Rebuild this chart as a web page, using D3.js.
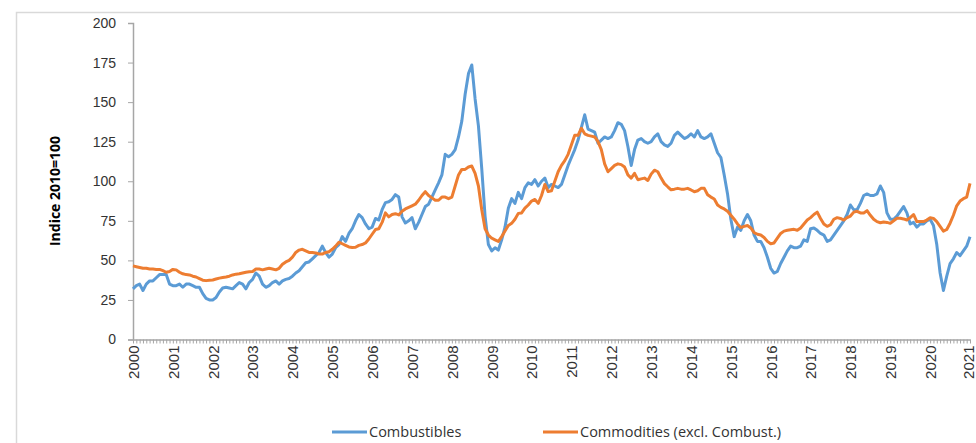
<!DOCTYPE html>
<html>
<head>
<meta charset="utf-8">
<script src="https://cdn.jsdelivr.net/npm/d3@7"></script>
<style>
  body { margin: 0; background: #fff; }
  svg { display: block; font-family: "Open Sans", "Liberation Sans", sans-serif; }
</style>
</head>
<body>
<svg id="chart" width="976" height="443"></svg>
<script>
// Tick labels on the x axis (one per January)
var years = ["2000", "2001", "2002", "2003", "2004", "2005", "2006", "2007", "2008", "2009", "2010",
             "2011", "2012", "2013", "2014", "2015", "2016", "2017", "2018", "2019", "2020", "2021"];

var yTicks = [0, 25, 50, 75, 100, 125, 150, 175, 200];

// Monthly index values, Jan 2000 .. Jan 2021 (2010 = 100)
var combustibles = [
    32, 34, 35, 31, 35, 37, 37, 39, 41, 41, 41, 35,           // 2000
    34, 34, 35, 33, 35, 35, 34, 33, 33, 29, 26, 25,           // 2001
    25, 26.5, 30, 32.5, 33, 32.5, 32, 34, 36, 35, 32, 36,     // 2002
    38, 42, 40, 35, 33, 34, 36, 37, 35, 37, 38, 38.5,         // 2003
    40, 42, 43.5, 46, 48.5, 49, 51, 53, 55, 59, 55, 52,       // 2004
    54, 58, 60, 65, 62, 67, 70, 75, 79, 77, 73, 70,           // 2005
    71, 76.5, 75.5, 82, 86.5, 87, 88.5, 91.5, 90, 77.5, 73.6, 75, // 2006
    77, 70, 74, 79, 84, 85.5, 90, 94.5, 99, 104, 117, 115.5,  // 2007
    117, 120, 128, 138, 155, 168, 173.5, 152, 135, 108, 78, 60, // 2008
    56, 58, 56.5, 63, 71, 83, 89, 86, 93, 89, 96, 99,         // 2009
    98, 101, 97, 100, 102, 96, 98, 97, 96, 98, 104, 110,      // 2010
    115, 120, 126, 134, 142, 133, 132, 131, 124, 126, 128, 127, // 2011
    128, 132, 137, 136, 132, 122, 110, 120, 126, 127, 125, 124, // 2012
    125, 128, 130, 125, 123, 122, 124, 129, 131, 129, 127, 128, // 2013
    130, 128, 132, 128, 127, 128, 130, 124, 118, 115, 104, 92,  // 2014
    76, 65, 71, 69, 75, 79, 75, 66, 62, 62, 58, 52,           // 2015
    45, 42, 43, 48, 52, 56, 59, 58, 58, 59, 63, 62,           // 2016
    70, 70.5, 69, 67, 66, 62, 63, 66, 69, 72, 75, 79,         // 2017
    85, 82, 82, 86, 91, 92, 91, 91, 92, 97, 93, 80,           // 2018
    76, 76, 78, 81, 84, 80, 73, 74, 71, 73, 73, 75,           // 2019
    76, 72, 60, 42, 31, 40, 48, 51, 55, 53, 56, 59,           // 2020
    65                                                        // 2021
];

var commodities = [
    46.5, 46, 45.5, 45, 45, 44.5, 44.5, 44.3, 44.3, 43.5, 42.5, 43,   // 2000
    44.3, 44, 42.5, 41.5, 41, 40.8, 40, 39.5, 38.5, 37.5, 37.2, 37.5, // 2001
    37.6, 38.2, 38.8, 39.2, 39.5, 40, 40.8, 41.3, 41.5, 42, 42.5, 42.8, // 2002
    43, 44.5, 44.5, 44, 44.5, 45, 44.5, 44, 45, 47.5, 49, 50,         // 2003
    52, 55, 56.5, 57, 56, 55, 55, 54.7, 54, 54, 55, 55.5,             // 2004
    57, 59, 61.5, 60.5, 59.5, 58.5, 58.2, 58.3, 59.5, 60, 61, 63.5,   // 2005
    66.5, 69.5, 70, 74, 80, 77.5, 79, 79.5, 78.7, 81, 82.5, 83.5,     // 2006
    84.5, 85.5, 88, 91, 93.4, 91, 89.5, 88, 88, 90, 90, 89,           // 2007
    90, 97, 104, 107.5, 107.5, 109, 109.6, 105, 97, 82, 70, 66,       // 2008
    64, 63, 62, 65, 68.5, 72, 73.4, 76, 79.7, 80, 83, 85,             // 2009
    87.5, 88.5, 86, 91, 98, 93.5, 94, 100, 106, 110, 113, 117,        // 2010
    123, 129, 129, 133.5, 130, 129, 128.5, 128, 125, 120, 111, 106,   // 2011
    108, 110, 111, 110.5, 109, 104, 102, 105, 101, 101.5, 102, 100.5, // 2012
    104.5, 107, 106, 102, 98.5, 96.5, 94.6, 95, 95.5, 95, 95, 95.5,   // 2013
    94.5, 93.4, 94, 95.5, 95.5, 91.5, 90, 88.8, 85, 83.5, 82.5, 81,   // 2014
    78.5, 76, 73, 70.8, 71.5, 72, 70.5, 67.5, 66.5, 66, 64.5, 62,     // 2015
    60.5, 61, 64, 67, 68.5, 69, 69.3, 69.6, 69, 70.5, 73, 75.5,       // 2016
    77, 79, 80.5, 76.5, 73, 71.5, 72.5, 76, 77, 76.5, 75.5, 77,       // 2017
    78, 80.5, 81, 80, 80, 81.4, 78.5, 76, 74.5, 73.8, 74.3, 74,       // 2018
    73.4, 75, 76.6, 76.6, 76.2, 75.5, 77, 79, 74.5, 74.5, 74.5, 75.5, // 2019
    77, 76.5, 74.5, 71.5, 68.5, 69.5, 73.5, 78.5, 84.5, 87.5, 89, 90, // 2020
    98.7                                                              // 2021
];

var seriesNames = ["Combustibles", "Commodities (excl. Combust.)"];
var colors = ["#5b9bd5", "#ed7d31"];

var svg = d3.select("#chart");

var plot = { left: 133, right: 970, top: 23, bottom: 339.5 };

var x = d3.scaleLinear()
    .domain([0, combustibles.length - 1])
    .range([plot.left, plot.right]);

var y = d3.scaleLinear()
    .domain([0, 200])
    .range([plot.bottom, plot.top]);

// chart frame
svg.append("rect")
    .attr("x", 16.5)
    .attr("y", 12.5)
    .attr("width", 1200)
    .attr("height", 1200)
    .attr("fill", "none")
    .attr("stroke", "#d9d9d9")
    .attr("stroke-width", 1.5);

// y axis
var yAxis = svg.append("g")
    .attr("transform", "translate(" + plot.left + ",0)")
    .call(d3.axisLeft(y).tickValues(yTicks).tickSize(5).tickPadding(12));
yAxis.select(".domain").attr("stroke", "#a6a6a6").attr("stroke-width", 1.5);
yAxis.selectAll(".tick line").attr("stroke", "#a6a6a6");
yAxis.selectAll("text")
    .attr("fill", "#333")
    .style("font-size", "14px");

// x axis: a small tick each month, a label each January
var xAxis = svg.append("g")
    .attr("transform", "translate(0," + plot.bottom + ")")
    .call(d3.axisBottom(x)
        .tickValues(d3.range(combustibles.length))
        .tickSize(4)
        .tickSizeOuter(0)
        .tickFormat(function(i) { return i % 12 === 0 ? years[i / 12] : ""; }));
xAxis.select(".domain").attr("stroke", "#a6a6a6").attr("stroke-width", 1.5);
xAxis.selectAll(".tick line").attr("stroke", "#a6a6a6");
xAxis.selectAll("text")
    .attr("fill", "#333")
    .style("font-size", "15px")
    .attr("transform", "rotate(-90)")
    .attr("text-anchor", "end")
    .attr("x", -6)
    .attr("y", function(i) { return i === combustibles.length - 1 ? -2 : 0; })
    .attr("dy", "0.36em");

// y axis title
svg.append("text")
    .attr("transform", "translate(60,191) rotate(-90)")
    .attr("text-anchor", "middle")
    .style("font-size", "14px")
    .style("font-weight", "bold")
    .attr("fill", "#000")
    .text("Indice 2010=100");

// lines
var line = d3.line()
    .x(function(d, i) { return x(i); })
    .y(function(d) { return y(d); });

[combustibles, commodities].forEach(function(values, k) {
    svg.append("path")
        .datum(values)
        .attr("fill", "none")
        .attr("stroke", colors[k])
        .attr("stroke-width", 3)
        .attr("stroke-linejoin", "round")
        .attr("d", line);
});

// legend
var legendX = [332, 543];
var legend = svg.selectAll(".legend")
    .data(seriesNames)
    .enter().append("g")
    .attr("class", "legend")
    .attr("transform", function(d, i) { return "translate(" + legendX[i] + ",432)"; });

legend.append("line")
    .attr("x1", 0)
    .attr("x2", 35)
    .attr("stroke", function(d, i) { return colors[i]; })
    .attr("stroke-width", 3);

legend.append("text")
    .attr("x", 37)
    .attr("dy", "0.35em")
    .style("font-size", "14.5px")
    .attr("fill", "#333")
    .text(function(d) { return d; });
</script>
</body>
</html>
